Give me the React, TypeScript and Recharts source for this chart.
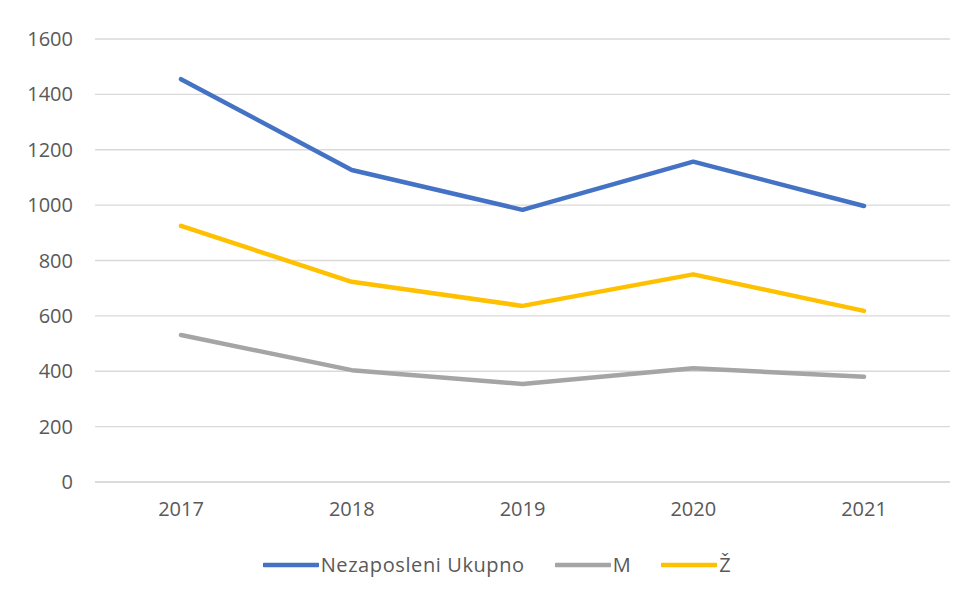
import { LineChart, Line, XAxis, YAxis, CartesianGrid, Legend } from 'recharts';

const years = ['2017', '2018', '2019', '2020', '2021'];
const ukupno = [1455, 1127, 983, 1157, 997];
const muski = [531, 404, 354, 411, 380];
const zene = [925, 723, 636, 750, 618];
const yTicks = [0, 200, 400, 600, 800, 1000, 1200, 1400, 1600];

const series = [
  { key: 'ukupno', name: 'Nezaposleni Ukupno', color: '#4472C4' },
  { key: 'm', name: 'M', color: '#A5A5A5' },
  { key: 'z', name: 'Ž', color: '#FFC000' },
];

const data = years.map((year, i) => ({
  year,
  ukupno: ukupno[i],
  m: muski[i],
  z: zene[i],
}));

const font = '"Open Sans", sans-serif';
const textColor = '#595959';

const renderLegend = () => (
  <div style={{ display: 'flex', justifyContent: 'center', alignItems: 'center', paddingLeft: 26, fontFamily: font, fontSize: 20, color: textColor, height: 26 }}>
    {series.map((s, i) => (
      <div key={s.key} style={{ display: 'flex', alignItems: 'center', marginLeft: i === 0 ? 0 : 30 }}>
        <svg width={56} height={6} style={{ marginRight: 2 }}>
          <line x1={1} y1={3} x2={55} y2={3} stroke={s.color} strokeWidth={4.5} strokeLinecap="round" />
        </svg>
        <span style={{ lineHeight: '26px', letterSpacing: 0.6 }}>{s.name}</span>
      </div>
    ))}
  </div>
);

const App = () => {
  return (
    <div style={{ position: 'absolute', left: 0, top: 0, width: 968, height: 600, background: '#fff' }}>
      <LineChart width={968} height={600} data={data} margin={{ top: 39, right: 18, bottom: 22, left: 0 }}>
        <CartesianGrid vertical={false} stroke="#D9D9D9" strokeWidth={1.3} />
        <XAxis
          dataKey="year"
          height={70}
          padding={{ left: 86, right: 86 }}
          tickLine={false}
          tickSize={0}
          tickMargin={20}
          axisLine={{ stroke: '#D9D9D9', strokeWidth: 1.3 }}
          tick={{ fill: textColor, fontSize: 20, fontFamily: font }}
        />
        <YAxis
          width={95}
          domain={[0, 1600]}
          ticks={yTicks}
          axisLine={false}
          tickLine={false}
          tickSize={0}
          tickMargin={22}
          tick={{ fill: textColor, fontSize: 20, fontFamily: font }}
        />
        <Legend verticalAlign="bottom" content={renderLegend} wrapperStyle={{ left: 0, width: 968 }} />
        {series.map((s) => (
          <Line
            key={s.key}
            type="linear"
            dataKey={s.key}
            name={s.name}
            stroke={s.color}
            strokeWidth={4.5}
            strokeLinecap="round"
            strokeLinejoin="round"
            dot={false}
            activeDot={false}
            isAnimationActive={false}
          />
        ))}
      </LineChart>
    </div>
  );
};

export default App;
